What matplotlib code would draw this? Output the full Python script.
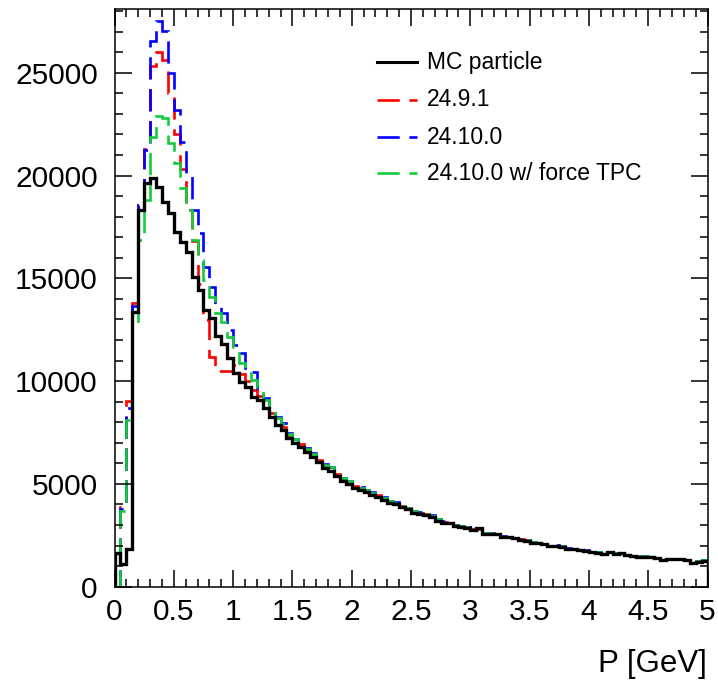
import numpy as np
import matplotlib
matplotlib.use("Agg")
import matplotlib.pyplot as plt
from matplotlib.ticker import MultipleLocator

plt.rcParams['font.family'] = ['Liberation Sans', 'DejaVu Sans']
plt.rcParams['lines.scale_dashes'] = False

# momentum binning: 100 bins of 0.05 GeV
edges = np.linspace(0.0, 5.0, 101)

mc_particle = [
    1630, 1100, 1830, 13380, 18300, 19650, 19860, 19450, 18730, 18160,
    17270, 16780, 16300, 15080, 14430, 13480, 13080, 12200, 11800, 11100,
    10400, 9970, 9730, 9250, 9080, 8700, 8270, 7870, 7620, 7220,
    6975, 6810, 6560, 6300, 6050, 5760, 5650, 5400, 5150, 5010,
    4790, 4700, 4600, 4480, 4380, 4217, 4086, 4022, 3860, 3765,
    3600, 3536, 3487, 3405, 3210, 3113, 3080, 2952, 2918, 2860,
    2760, 2840, 2563, 2563, 2550, 2400, 2400, 2350, 2270, 2240,
    2140, 2110, 2060, 1980, 1980, 1945, 1820, 1820, 1785, 1735,
    1690, 1655, 1590, 1700, 1590, 1625, 1525, 1493, 1460, 1460,
    1430, 1380, 1300, 1330, 1330, 1330, 1300, 1140, 1216, 1265,
]

v24_9_1 = [
    0, 3900, 9050, 13800, 18570, 21300, 25330, 26020, 25600, 24000,
    22000, 20300, 18300, 16800, 14700, 12970, 11190, 10490, 10490, 10490,
    10800, 10350, 10000, 9550, 9300, 8900, 8450, 8050, 7750, 7380,
    7100, 6930, 6680, 6400, 6150, 5880, 5760, 5500, 5250, 5100,
    4880, 4780, 4680, 4560, 4440, 4300, 4150, 4080, 3930, 3820,
    3660, 3590, 3530, 3450, 3260, 3160, 3120, 3000, 2950, 2890,
    2800, 2830, 2600, 2590, 2580, 2440, 2420, 2380, 2300, 2260,
    2170, 2130, 2090, 2000, 2000, 1960, 1850, 1840, 1800, 1760,
    1700, 1680, 1610, 1690, 1620, 1630, 1550, 1510, 1480, 1470,
    1450, 1400, 1320, 1340, 1350, 1340, 1310, 1170, 1230, 1270,
]

v24_10_0 = [
    0, 3800, 8700, 13650, 18570, 21240, 26540, 27530, 27030, 24990,
    23190, 21645, 20110, 18320, 17200, 15565, 14590, 13620, 13300, 12490,
    11760, 11350, 10620, 10460, 9650, 9160, 8700, 8250, 7950, 7500,
    7200, 7000, 6750, 6480, 6220, 5950, 5830, 5560, 5300, 5150,
    4920, 4830, 4720, 4600, 4480, 4340, 4190, 4110, 3960, 3850,
    3680, 3610, 3550, 3470, 3280, 3180, 3130, 3010, 2960, 2900,
    2810, 2850, 2610, 2600, 2590, 2450, 2430, 2390, 2310, 2270,
    2180, 2140, 2100, 2010, 2010, 1970, 1860, 1850, 1810, 1770,
    1710, 1690, 1620, 1710, 1630, 1650, 1560, 1520, 1490, 1480,
    1460, 1410, 1330, 1350, 1350, 1350, 1310, 1180, 1240, 1290,
]

v24_10_0_tpc = [
    0, 3700, 8100, 12730, 16860, 18800, 21890, 22890, 22780, 21570,
    20590, 19380, 18320, 16860, 15890, 14920, 14105, 13300, 12890, 12160,
    11674, 10866, 10380, 10054, 9730, 9080, 8650, 8200, 7900, 7450,
    7170, 6970, 6720, 6450, 6190, 5920, 5800, 5530, 5280, 5130,
    4900, 4810, 4700, 4580, 4460, 4320, 4170, 4090, 3940, 3830,
    3670, 3600, 3540, 3460, 3270, 3170, 3120, 3000, 2950, 2890,
    2800, 2840, 2600, 2590, 2580, 2440, 2420, 2380, 2300, 2260,
    2170, 2130, 2090, 2000, 2000, 1960, 1850, 1840, 1800, 1760,
    1700, 1680, 1610, 1700, 1620, 1640, 1550, 1510, 1480, 1470,
    1450, 1400, 1320, 1340, 1340, 1340, 1300, 1170, 1230, 1280,
]

labels = ["MC particle", "24.9.1", "24.10.0", "24.10.0 w/ force TPC"]
colors = ["black", "#ff0000", "#0000ff", "#14cc3c"]
series = [mc_particle, v24_9_1, v24_10_0, v24_10_0_tpc]

W, H = 718, 688
fig = plt.figure(figsize=(W / 100, H / 100), dpi=100)
ax = fig.add_axes([114.5 / W, 1 - 586.7 / H, (707.5 - 114.5) / W, (586.7 - 9) / H])

dash = (16, 7)
# dashed versions first, MC truth on top
for vals, col, lab in list(zip(series, colors, labels))[1:]:
    ax.stairs(vals, edges, color=col, lw=1.9, linestyle=(0, dash), baseline=0)
ax.stairs(mc_particle, edges, color="black", lw=2.4, baseline=0, zorder=3)

ax.set_xlim(0, 5)
ax.set_ylim(0, 28100)
ax.xaxis.set_major_locator(MultipleLocator(0.5))
ax.xaxis.set_minor_locator(MultipleLocator(0.1))
ax.yaxis.set_major_locator(MultipleLocator(5000))
ax.yaxis.set_minor_locator(MultipleLocator(1000))
ax.xaxis.set_major_formatter(plt.FuncFormatter(lambda v, p: f"{v:g}"))
ax.tick_params(which="both", direction="in", top=True, right=True, width=1.1)
ax.tick_params(which="major", length=12)
ax.tick_params(which="minor", length=5.5)
ax.tick_params(axis="x", labelsize=21.5, pad=8)
ax.tick_params(axis="y", labelsize=21.5, pad=12)
for s in ax.spines.values():
    s.set_linewidth(1.1)

fig.text(707 / W, 1 - 664 / H, "P [GeV]", fontsize=22.5, ha="right", va="center")

# legend drawn by hand, no frame
rows = [62, 100, 137, 173]
for y, col, lab in zip(rows, colors, labels):
    yf = 1 - y / H
    if col == "black":
        fig.add_artist(plt.Line2D([377 / W, 417 / W], [yf, yf], color=col, lw=2.2))
    else:
        fig.add_artist(plt.Line2D([377 / W, 417 / W], [yf, yf], color=col, lw=1.9,
                                  linestyle=(0, dash)))
    fig.text(427 / W, yf, lab, fontsize=16.5, ha="left", va="center")

fig.savefig("out.png", dpi=100)
